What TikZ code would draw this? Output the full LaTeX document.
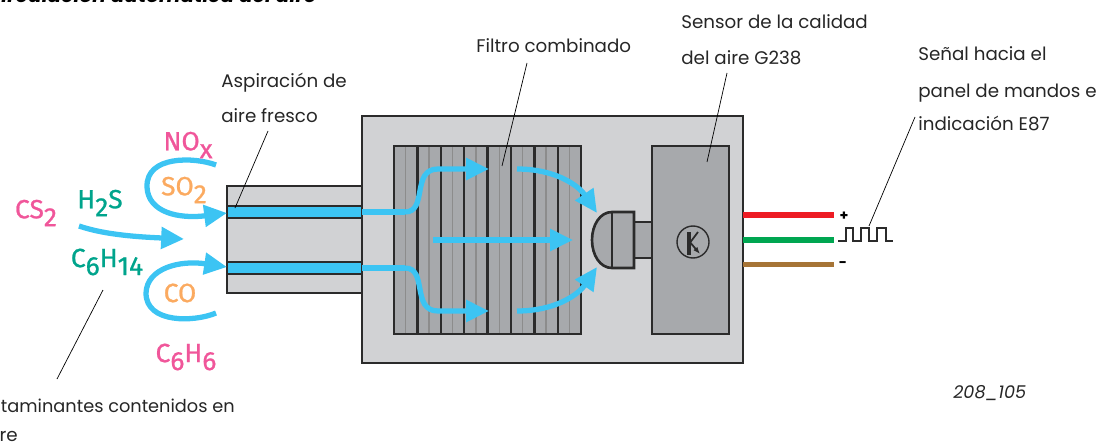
\documentclass[tikz,border=0pt]{standalone}
\usepackage{fontspec}
\usetikzlibrary{arrows.meta}
\setmainfont{Poppins}
\newfontfamily\chemfont[FakeBold=0.9]{Fira Sans}

\definecolor{caja}{HTML}{D1D2D4}
\definecolor{filtro}{HTML}{A7A9AC}
\definecolor{borde}{HTML}{2B2B2B}
\definecolor{flujo}{HTML}{3CC4F3}
\definecolor{rosa}{HTML}{F0569A}
\definecolor{verde}{HTML}{00A48C}
\definecolor{naranja}{HTML}{FBAA60}

\newcommand{\idx}[1]{\raisebox{-0.3em}{#1}}

\tikzset{
  pieza/.style={draw=borde, line width=1.5pt},
  aire/.style={flujo, line width=3pt, -{Triangle[length=13pt,width=12pt]}},
  guia/.style={black, line width=0.4pt},
  rotulo/.style={anchor=base west, inner sep=0pt, text=black!85, font=\fontsize{10.4}{12}\selectfont},
  gas/.style={inner sep=0pt, font=\chemfont\fontsize{15}{16}\selectfont},
  hilo/.style={line width=3.4pt}
}

\begin{document}
\begin{tikzpicture}[x=0.02cm,y=-0.02cm]
   \useasboundingbox (0,0) rectangle (1101,446);
   \clip (0,0) rectangle (1101,446);

   \node[anchor=base east, inner sep=0pt, font=\bfseries\itshape\fontsize{11.5}{12}\selectfont] (titulo) at (317,3) {irculación automática del aire};

   % toma de aire
   \draw[pieza, fill=caja] (227,186) rectangle (362,293);
   \draw[pieza, fill=flujo] (227,206) rectangle (362,218);
   \draw[pieza, fill=flujo] (227,262) rectangle (362,274);

   % carcasa
   \draw[pieza, fill=caja] (362,116) rectangle (743,363);

   % filtro
   \fill[filtro] (394,146) rectangle (581,334);
   \foreach \x in {405.7,429.1,452.5,475.9,499.3,522.7,546.1,569.5}
      \draw[black!45, line width=0.8pt] (\x,146) -- (\x,334);
   \foreach \x in {417.4,440.8,464.2,487.6,511,534.4,557.8}
      \draw[borde, line width=1.4pt] (\x,146) -- (\x,334);
   \draw[pieza] (394,146) rectangle (581,334);

   % sensor
   \draw[pieza, fill=filtro] (652,146) rectangle (729,334);
   \draw[pieza, fill=filtro] (634,222) rectangle (652,258);
   \draw[pieza, fill=filtro] (612,212) -- (634,212) -- (634,268) -- (612,268)
      .. controls (600,268) and (592,255) .. (592,240)
      .. controls (592,225) and (600,212) .. (612,212) -- cycle;
   \draw[pieza] (612,212) -- (612,268);

   % transistor
   \draw[borde, line width=0.8pt] (693,242) circle (16);
   \draw[borde, line width=1.8pt] (689,232) -- (689,255);
   \draw[borde, line width=1pt] (689,244) -- (698,232);
   \draw[borde, line width=1pt, -{Latex[length=4pt,width=3pt]}] (689,241) -- (700,254);

   % cables
   \draw[hilo, color={rgb,255:red,237;green,28;blue,36}] (743,215) -- (834,215);
   \draw[hilo, color={rgb,255:red,0;green,166;blue,81}] (743,240) -- (834,240);
   \draw[hilo, color={rgb,255:red,166;green,116;blue,54}] (743,264.5) -- (834,264.5);
   \node[inner sep=0pt, font=\bfseries\fontsize{8}{8}\selectfont] (mas) at (844,216) {+};
   \node[inner sep=0pt, font=\bfseries\fontsize{8}{8}\selectfont] (menos) at (843,265) {-};
   \draw[borde, line width=1.4pt] (838,241) -- (846,241) -- (846,228) -- (853,228) -- (853,241)
      -- (861,241) -- (861,228) -- (869,228) -- (869,241) -- (877,241) -- (877,228)
      -- (886,228) -- (886,241) -- (893,241);

   % aire exterior
   \draw[aire] (216,165) .. controls (195,157) and (146,155) .. (147,187)
      .. controls (148,213) and (180,219) .. (227,213);
   \draw[aire] (216,313) .. controls (195,322) and (146,324) .. (146,293)
      .. controls (147,268) and (180,260) .. (227,267);
   \draw[aire] (79,226) .. controls (105,235) and (140,237) .. (184,239);

   % aire por el filtro
   \draw[flujo, line width=3pt] (362,212) -- (405,212);
   \draw[flujo, line width=3pt] (362,268) -- (405,268);
   \draw[aire] (405,212) .. controls (428,212) and (411,169) .. (438,169) -- (489,169);
   \draw[aire] (405,268) .. controls (428,268) and (411,311) .. (438,311) -- (489,311);
   \draw[aire] (433,240) -- (573,240);
   \draw[aire] (517,169) .. controls (555,169) and (578,185) .. (597,213);
   \draw[aire] (517,311) .. controls (555,311) and (578,295) .. (597,267);

   % gases
   \node[gas, text=rosa] (nox) at (188,145) {NO\idx{x}};
   \node[gas, text=naranja] (so2) at (184,190) {SO\idx{2}};
   \node[gas, text=rosa] (cs2) at (36,213) {CS\idx{2}};
   \node[gas, text=verde] (h2s) at (100,203) {H\idx{2}S};
   \node[gas, text=verde] (c6h14) at (107,262) {C\idx{6}H\idx{14}};
   \node[gas, text=naranja] (co) at (180,293) {CO};
   \node[gas, text=rosa] (c6h6) at (186,357) {C\idx{6}H\idx{6}};

   % rotulos
   \node[rotulo] (filtrocomb) at (476,53) {Filtro combinado};
   \node[rotulo] (sensor1) at (681,29) {Sensor de la calidad};
   \node[rotulo] (sensor2) at (681,65) {del aire G238};
   \node[rotulo] (senal1) at (918,61) {Señal hacia el};
   \node[rotulo] (senal2) at (918,97) {panel de mandos e};
   \node[rotulo] (senal3) at (918,131) {indicación E87};
   \node[rotulo] (aspira1) at (221,88) {Aspiración de};
   \node[rotulo] (aspira2) at (221,122) {aire fresco};
   \node[rotulo, anchor=base east, font=\fontsize{10.1}{12}\selectfont] (conta1) at (235,412) {taminantes contenidos en};
   \node[rotulo, anchor=base east] (conta2) at (18,441) {re};
   \node[rotulo, font=\itshape\fontsize{10}{12}\selectfont] (codigo) at (953,398) {208\_105};

   % lineas de referencia
   \coordinate (pfiltro) at (502,166);
   \coordinate (psensor) at (707,162);
   \coordinate (ppulso) at (869,226);
   \coordinate (ptoma) at (235,208);
   \coordinate (pgas) at (103,290);
   \coordinate (pconta) at (57,379);
   \draw[guia] (527,63) -- (pfiltro);
   \draw[guia] (727,73) -- (psensor);
   \draw[guia] (915,117) -- (ppulso);
   \draw[guia] (268,131) -- (ptoma);
   \draw[guia] (pgas) -- (pconta);

\end{tikzpicture}
\end{document}
